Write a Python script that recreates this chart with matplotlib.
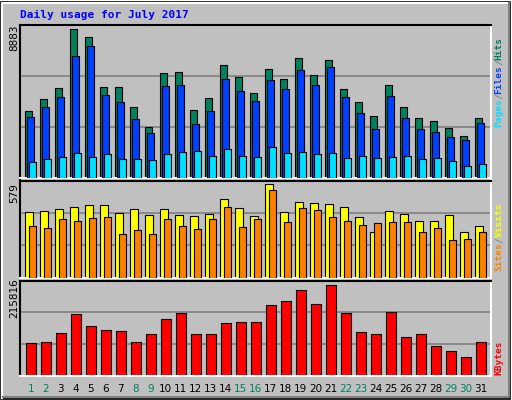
import matplotlib
matplotlib.use("Agg")
import matplotlib.pyplot as plt
from matplotlib.patches import Rectangle
from matplotlib.lines import Line2D

days = list(range(1, 32))
weekend = [1, 2, 8, 9, 15, 16, 22, 23, 29, 30]
hits = [4000,4723,5387,8883,8401,5447,5447,4241,3035,6291,6351,4060,4783,6773,6050,5085,6532,5929,7195,6170,7075,5326,4542,3698,5567,4241,3577,3396,2974,2492,3577]
files = [3638,4241,4844,7316,7919,4965,4543,3518,2673,5507,5568,3216,4000,5930,5206,4603,5869,5327,6472,5568,6653,4844,3879,2915,4904,3578,2915,2734,2432,2251,3276]
pages = [925,1106,1226,1467,1226,1407,1106,1106,1045,1407,1528,1588,1286,1709,1286,1226,1829,1467,1528,1407,1467,1166,1286,1166,1226,1286,1106,1166,985,683,804]
visits = [403,409,422,434,447,447,397,422,384,422,384,378,390,485,428,378,579,403,466,459,453,434,371,283,409,390,352,352,384,283,321]
sites = [321,308,359,346,365,371,271,296,271,359,321,302,359,434,315,359,541,340,428,415,371,352,327,334,340,340,283,308,233,239,283]
kbytes = [78260,80630,101980,147030,118580,109090,106720,80630,99600,135180,149400,99600,99600,125690,128060,128060,168380,177860,203950,170750,215816,149400,104350,99600,151780,92490,99600,71150,59290,45060,80630]

W, H = 512, 400
BG = "#C0C0C0"
fig = plt.figure(figsize=(W/100, H/100), dpi=100, facecolor="white")
FONT = "DejaVu Sans Mono"

# outer frame
fig.patches.append(Rectangle((1/W, 1/H), (W-3)/W, (H-3)/H, transform=fig.transFigure,
                             facecolor=BG, edgecolor="black", lw=1.2, zorder=-10))
fig.add_artist(Line2D([2/W, 2/W, (W-3)/W], [2/H, (H-3)/H, (H-3)/H], transform=fig.transFigure, color="white", lw=1.5, zorder=-9))
fig.add_artist(Line2D([3/W, (W-3)/W, (W-3)/W], [3/H, 3/H, (H-3)/H], transform=fig.transFigure, color="#808080", lw=1.5, zorder=-9))

X0, X1 = 20, 490.7
def mkax(ytop, ybot):
    ax = fig.add_axes([X0/W, 1-ybot/H, (X1-X0)/W, (ybot-ytop)/H])
    ax.set_zorder(5)
    ax.set_facecolor(BG)
    ax.set_xlim(X0, X1)
    ax.set_xticks([]); ax.set_yticks([])
    for s in ["left", "top"]:
        ax.spines[s].set_color("black")
    for s in ["right", "bottom"]:
        ax.spines[s].set_color("white")
    for sp in ax.spines.values():
        sp.set_linewidth(1.5)
    return ax

def xpos(i, off):
    return 25.3 + 15.0*i + off

def grid(ax, top):
    for f in (1/3, 2/3):
        ax.axhline(top*f, color="#808080", lw=1.2, zorder=0)

# top panel
ax1 = mkax(25, 177.5)
top1 = max(hits)*1.03
ax1.set_ylim(0, top1)
grid(ax1, top1)
for i in range(31):
    ax1.bar(xpos(i, 0), hits[i], width=7, align="edge", color="#00805C", edgecolor="black", lw=0.8, zorder=2)
    ax1.bar(xpos(i, 2), files[i], width=7, align="edge", color="#0040FF", edgecolor="black", lw=0.8, zorder=3)
    ax1.bar(xpos(i, 4), pages[i], width=7, align="edge", color="#00E0FF", edgecolor="black", lw=0.8, zorder=4)

# middle panel
ax2 = mkax(180.5, 277.5)
top2 = max(visits)*1.035
ax2.set_ylim(0, top2)
grid(ax2, top2)
for i in range(31):
    ax2.bar(xpos(i, 0), visits[i], width=8, align="edge", color="#FFFF00", edgecolor="black", lw=0.8, zorder=2)
    ax2.bar(xpos(i, 4), sites[i], width=7, align="edge", color="#FF8000", edgecolor="black", lw=0.8, zorder=3)

# bottom panel
ax3 = mkax(280.5, 376)
top3 = max(kbytes)*1.045
ax3.set_ylim(0, top3)
grid(ax3, top3)
for i in range(31):
    ax3.bar(xpos(i, 1), kbytes[i], width=10, align="edge", color="#FF0000", edgecolor="black", lw=0.8, zorder=2)

# day labels
for i, d in enumerate(days):
    c = "#008060" if d in weekend else "black"
    fig.text((xpos(i, 0)+5.5)/W, 1-389/H, str(d), ha="center", va="center", fontsize=7.5,
             color=c, family="DejaVu Sans")

# title
fig.text(20/W, 1-15/H, "Daily usage for July 2017", ha="left", va="center", fontsize=8,
         color="#0000FF", weight="bold", family=FONT)

# left max labels
for y, txt in [(38, "8883"), (193, "579"), (298, "215816")]:
    fig.text(14/W, 1-y/H, txt, rotation=90, ha="center", va="center", fontsize=7.5, family="DejaVu Sans")

# right labels
def rlabel(ycenter, parts):
    total = sum(len(t) for t, _ in parts)
    ch = 5.6
    y = ycenter + total*ch/2
    for t, c in parts:
        n = len(t)
        fig.text(499/W, 1-(y - n*ch/2)/H, t, rotation=90, ha="center", va="center",
                 fontsize=6.8, color=c, weight="bold", family=FONT)
        y -= n*ch
rlabel(82, [("Pages", "#00E0FF"), ("/", "#808080"), ("Files", "#0040FF"), ("/", "#808080"), ("Hits", "#008060")])
rlabel(237, [("Sites", "#FF8000"), ("/", "#808080"), ("Visits", "#FFFF00")])
rlabel(358, [("KBytes", "#FF0000")])

fig.savefig("out.png", dpi=100, facecolor="white")
